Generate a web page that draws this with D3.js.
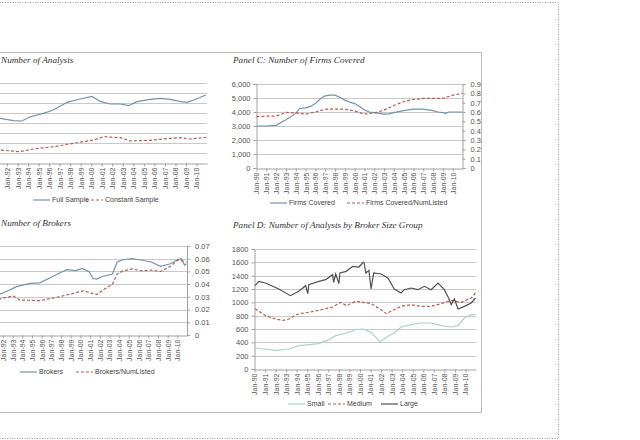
<!DOCTYPE html>
<html>
<head>
<meta charset="utf-8">
<script src="https://cdn.jsdelivr.net/npm/d3@7"></script>
<style>
  body { margin: 0; background: #fff; }
  svg { display: block; }
</style>
</head>
<body>
<div id="canvas"></div>
<script>
var w = 640;
var h = 440;

// tick labels
var xTickLabels = ["Jan-90","Jan-91","Jan-92","Jan-93","Jan-94","Jan-95","Jan-96","Jan-97","Jan-98","Jan-99",
                   "Jan-00","Jan-01","Jan-02","Jan-03","Jan-04","Jan-05","Jan-06","Jan-07","Jan-08","Jan-09","Jan-10"];
var tickYears = d3.range(1990, 2011);
var aTicks = [0, 500, 1000, 1500, 2000, 2500, 3000, 3500, 4000];
var bTicks = [0, 50, 100, 150, 200, 250, 300, 350];
var bTicks2 = [0, 0.01, 0.02, 0.03, 0.04, 0.05, 0.06, 0.07];
var cTicks = [0, 1000, 2000, 3000, 4000, 5000, 6000];
var cTicks2 = [0, 0.1, 0.2, 0.3, 0.4, 0.5, 0.6, 0.7, 0.8, 0.9];
var dTicks = [0, 200, 400, 600, 800, 1000, 1200, 1400, 1600, 1800];

// Panel A: number of analysts  [year, value]
var fullSample = [[1990,2300],[1990.7,2280],[1991.33,2235],[1992.6,2115],[1993.4,2100],[1994.2,2315],
  [1995.45,2485],[1996.4,2650],[1997.7,3035],[1998.95,3200],[2000.07,3330],[2000.85,3080],[2001.8,2950],
  [2002.76,2950],[2003.55,2865],[2004.35,3065],[2005.6,3185],[2006.57,3235],[2007.5,3185],[2008.5,3065],
  [2009.1,3035],[2009.75,3150],[2010.9,3400]];
var constantSample = [[1990,640],[1991.33,650],[1993.2,565],[1994.5,700],[1996.4,815],[1998.3,985],
  [2000.2,1150],[2001.2,1315],[2002.76,1265],[2003.7,1100],[2005.6,1135],[2007.5,1235],[2008.5,1265],
  [2009.4,1200],[2010.9,1285]];

// Panel B: number of brokers
var brokers = [[1990,155],[1991.67,160],[1992.7,177],[1993.4,190],[1994.8,203],[1995.8,205],[1996.9,225],
  [1997.9,245],[1998.6,257],[1999.5,253],[2000.2,262],[2000.9,249],[2001.3,222],[2001.7,220],[2002.26,230],
  [2003.3,240],[2003.8,287],[2004.3,295],[2005.3,300],[2006.25,295],[2007.3,287],[2008.26,270],[2009.3,280],
  [2010.07,297],[2010.4,300],[2010.75,275],[2010.95,280]];
var brokersRatio = [[1990,0.029],[1991.67,0.0283],[1993.05,0.0307],[1993.75,0.0275],[1995.8,0.027],
  [1997.6,0.0297],[1999.3,0.0328],[2000.3,0.0348],[2001.7,0.0318],[2002.26,0.035],[2003.3,0.040],
  [2003.8,0.048],[2004.3,0.050],[2005.3,0.052],[2006.25,0.0505],[2007.3,0.051],[2008.26,0.050],
  [2009.3,0.054],[2010.07,0.059],[2010.95,0.0575]];

// Panel C: number of firms covered
var firmsCovered = [[1990,3000],[1991,3000],[1992,3050],[1993,3450],[1994,3900],[1994.4,4250],[1995,4300],
  [1995.5,4400],[1996,4600],[1996.6,5000],[1997,5150],[1997.5,5200],[1998,5200],[1998.5,5050],[1999,4850],
  [1999.5,4700],[2000,4600],[2000.5,4400],[2001,4150],[2001.5,4000],[2002,3950],[2002.5,3900],[2003,3850],
  [2003.5,3870],[2004,3950],[2005,4100],[2006,4200],[2007,4200],[2008,4100],[2008.5,4000],[2009,3950],
  [2009.3,3900],[2009.6,4000],[2010,4000],[2010.95,4000]];
var firmsRatio = [[1990,0.55],[1991,0.555],[1992,0.556],[1993,0.595],[1994,0.59],[1995,0.577],[1996,0.60],
  [1997,0.63],[1998,0.63],[1999,0.63],[2000,0.61],[2001,0.577],[2002,0.59],[2003,0.62],[2004,0.67],
  [2005,0.71],[2006,0.735],[2007,0.745],[2008,0.745],[2009,0.745],[2010,0.78],[2010.95,0.80]];

// Panel D: analysts by broker size group
var small = [[1990.05,315],[1992.0,280],[1993.25,300],[1994.2,350],[1996.1,380],[1997.05,440],[1997.7,500],
  [1998.7,540],[1999.6,590],[2000.3,600],[2001.05,550],[2001.9,410],[2002.65,490],[2003.25,540],[2003.9,630],
  [2004.85,665],[2005.8,690],[2006.75,690],[2007.7,650],[2008.65,630],[2009.3,650],[2009.9,765],
  [2010.55,815],[2010.95,815]];
var medium = [[1990.05,905],[1991.05,800],[1992.0,750],[1992.7,730],[1993.25,750],[1994.2,830],[1995.15,850],
  [1996.1,880],[1997.4,930],[1998.2,1000],[1998.7,950],[1999.6,1015],[2000.55,995],[2001.05,980],
  [2002.0,890],[2002.5,830],[2003.25,890],[2003.9,940],[2004.85,965],[2005.8,940],[2006.75,940],
  [2007.7,980],[2008.65,1030],[2009.6,1000],[2010.55,1065],[2010.95,1140]];
var large = [[1990.05,1250],[1990.4,1315],[1991.05,1290],[1992.3,1200],[1993.4,1100],[1994.2,1165],
  [1994.85,1250],[1995.05,1130],[1995.15,1265],[1996.1,1315],[1996.75,1340],[1997.4,1415],[1997.5,1300],
  [1997.7,1425],[1998.0,1280],[1998.1,1440],[1998.7,1465],[1999.3,1540],[1999.9,1530],[2000.3,1600],
  [2000.4,1590],[2000.55,1440],[2000.85,1480],[2001.05,1200],[2001.3,1440],[2002.0,1425],[2002.65,1365],
  [2003.25,1200],[2003.9,1140],[2004.2,1190],[2004.85,1215],[2005.5,1190],[2006.1,1240],[2006.75,1190],
  [2007.4,1290],[2008.0,1190],[2008.4,1065],[2008.65,965],[2008.95,1050],[2009.3,900],[2009.9,940],
  [2010.55,990],[2010.95,1065]];

var blueC = "#7393ab";
var redC = "#b35f55";
var tealC = "#a9d4cb";
var darkC = "#505050";
var gridC = "#c9c9c9";
var sans = "'Liberation Sans', Arial, sans-serif";
var serif = "'Liberation Serif', 'Times New Roman', serif";

var svg = d3.select("#canvas").append("svg")
  .attr("width", w)
  .attr("height", h)
  .style("background-color", "white");

// dotted outer frame
svg.append("path")
  .attr("d", "M0,2.5 H558.5 V438.5 H0")
  .attr("fill", "none")
  .attr("stroke", "#9a9a9a")
  .attr("stroke-width", 1)
  .attr("stroke-dasharray", "1,1.5");

// figure box
svg.append("path")
  .attr("d", "M0,52.5 H481.5 V412.5 H0")
  .attr("fill", "none")
  .attr("stroke", "#bdbdbd")
  .attr("stroke-width", 1);

function drawPanel(p) {
  var g = svg.append("g");
  var x = d3.scaleLinear().domain([1990, 2011]).range([p.x0, p.x1]);
  var y = d3.scaleLinear().domain([0, p.yMax]).range([p.yBot, p.yTop]);
  var y2 = p.y2Max ? d3.scaleLinear().domain([0, p.y2Max]).range([p.yBot, p.yTop]) : null;

  // gridlines
  g.selectAll(".grid").data(p.yTicks.slice(1)).enter().append("line")
    .attr("x1", p.x0).attr("x2", p.x1)
    .attr("y1", d => Math.round(y(d)) + 0.5).attr("y2", d => Math.round(y(d)) + 0.5)
    .attr("stroke", gridC).attr("stroke-width", 1);

  // left value axis (its labels are off the page for the cut-off panels)
  var la = g.append("g").attr("transform", "translate(" + p.x0 + ",0)")
    .call(d3.axisLeft(y).tickValues(p.yTicks).tickFormat(p.fmt).tickSize(3).tickPadding(3));
  la.select(".domain").attr("stroke", "#a0a0a0");
  la.selectAll(".tick line").attr("stroke", "#a0a0a0");
  if (p.x0 < 0) la.selectAll("text").remove();
  la.selectAll("text").style("font-family", sans).style("font-size", "7.5px").attr("fill", "#555");

  if (y2) {
    var ra = g.append("g").attr("transform", "translate(" + p.x1 + ",0)")
      .call(d3.axisRight(y2).tickValues(p.y2Ticks).tickFormat(p.fmt2).tickSize(3).tickPadding(5));
    ra.select(".domain").attr("stroke", "#a0a0a0");
    ra.selectAll(".tick line").attr("stroke", "#a0a0a0");
    ra.selectAll("text").style("font-family", sans).style("font-size", "7.5px").attr("fill", "#555");
  }

  // category axis
  var xa = g.append("g").attr("transform", "translate(0," + (Math.round(p.yBot) + 0.5) + ")")
    .call(d3.axisBottom(x).tickValues(tickYears).tickFormat((d, i) => xTickLabels[i]).tickSize(3).tickSizeOuter(0));
  xa.select(".domain").attr("stroke", "#a0a0a0");
  xa.selectAll(".tick line").attr("stroke", "#a0a0a0");
  xa.selectAll(".tick").filter(d => x(d) < 1).select("text").remove();
  xa.selectAll("text")
    .attr("transform", "rotate(-90)")
    .attr("x", -4).attr("y", 0).attr("dy", "0.35em")
    .attr("text-anchor", "end")
    .style("font-family", sans).style("font-size", "7px").attr("fill", "#555");

  // series
  p.series.forEach(function(s) {
    var sc = s.right ? y2 : y;
    var line = d3.line().x(d => x(d[0])).y(d => sc(d[1]));
    g.append("path")
      .datum(s.data)
      .attr("d", line)
      .attr("fill", "none")
      .attr("stroke", s.color)
      .attr("stroke-width", s.width || 1.2)
      .attr("stroke-dasharray", s.dash || null);
  });

  // title
  svg.append("text")
    .attr("x", p.tx).attr("y", p.ty)
    .style("font-family", serif).style("font-style", "italic").style("font-size", "9.2px")
    .attr("fill", "#333")
    .text(p.title);

  // legend
  p.legend.forEach(function(l) {
    svg.append("line")
      .attr("x1", l.x).attr("x2", l.x + 17)
      .attr("y1", p.ly).attr("y2", p.ly)
      .attr("stroke", l.color).attr("stroke-width", 1.2)
      .attr("stroke-dasharray", l.dash || null);
    svg.append("text")
      .attr("x", l.x + 19).attr("y", p.ly).attr("dy", "0.35em")
      .style("font-family", sans).style("font-size", "7px").attr("fill", "#444")
      .text(l.label);
  });
}

var comma = d3.format(",");

drawPanel({
  title: "Number of Analysts", tx: 1, ty: 63,
  x0: -14, x1: 207, yTop: 83, yBot: 163, yMax: 4000, yTicks: aTicks, fmt: comma,
  series: [
    { data: fullSample, color: blueC },
    { data: constantSample, color: redC, dash: "3,2" }
  ],
  ly: 200,
  legend: [
    { x: 33, label: "Full Sample", color: blueC },
    { x: 86, label: "Constant Sample", color: redC, dash: "3,2" }
  ]
});

drawPanel({
  title: "Number of Brokers", tx: 1, ty: 226,
  x0: -16.5, x1: 187, yTop: 246, yBot: 335, yMax: 350, yTicks: bTicks, fmt: comma,
  y2Max: 0.07, y2Ticks: bTicks2, fmt2: d => d === 0 ? "0" : d3.format(".2f")(d),
  series: [
    { data: brokers, color: blueC },
    { data: brokersRatio, color: redC, dash: "3,2", right: true }
  ],
  ly: 372,
  legend: [
    { x: 20, label: "Brokers", color: blueC },
    { x: 76, label: "Brokers/NumListed", color: redC, dash: "3,2" }
  ]
});

drawPanel({
  title: "Panel C: Number of Firms Covered", tx: 233, ty: 63,
  x0: 256.5, x1: 462.5, yTop: 84, yBot: 168, yMax: 6000, yTicks: cTicks, fmt: comma,
  y2Max: 0.9, y2Ticks: cTicks2, fmt2: d => d === 0 ? "0" : d3.format(".1f")(d),
  series: [
    { data: firmsCovered, color: blueC },
    { data: firmsRatio, color: redC, dash: "3,2", right: true }
  ],
  ly: 203,
  legend: [
    { x: 270, label: "Firms Covered", color: blueC },
    { x: 347, label: "Firms Covered/NumListed", color: redC, dash: "3,2" }
  ]
});

drawPanel({
  title: "Panel D: Number of Analysts by Broker Size Group", tx: 233, ty: 228,
  x0: 254.5, x1: 476, yTop: 249, yBot: 369, yMax: 1800, yTicks: dTicks, fmt: d => String(d),
  series: [
    { data: small, color: tealC },
    { data: medium, color: redC, dash: "3,2" },
    { data: large, color: darkC }
  ],
  ly: 404,
  legend: [
    { x: 288, label: "Small", color: tealC },
    { x: 328, label: "Medium", color: redC, dash: "3,2" },
    { x: 381, label: "Large", color: darkC }
  ]
});
</script>
</body>
</html>
